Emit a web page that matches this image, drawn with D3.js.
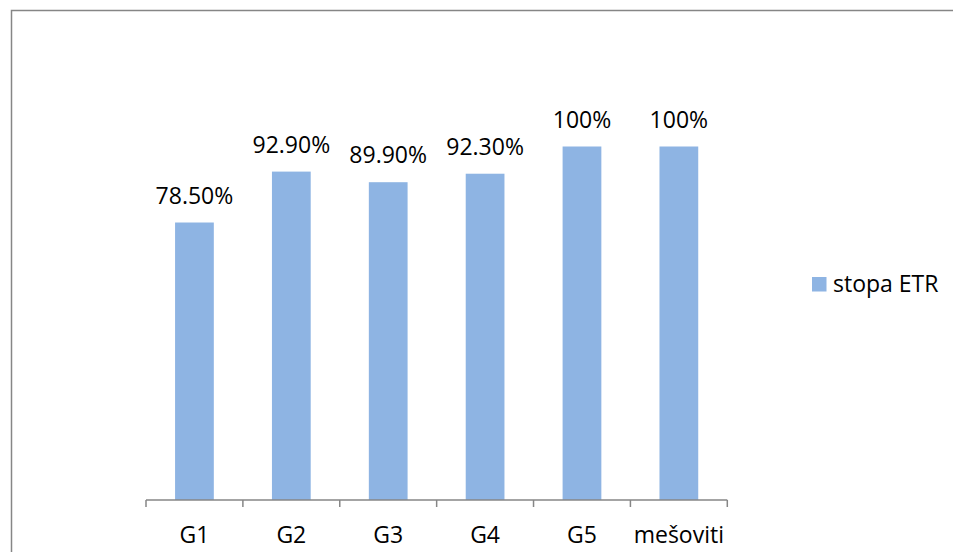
<!DOCTYPE html>
<html><head><meta charset="utf-8">
<script src="https://cdn.jsdelivr.net/npm/d3@7"></script>
<style>html,body{margin:0;padding:0;background:#fff;}svg{display:block;}</style>
</head><body><svg id="c" width="953" height="552"></svg>
<script>
const categories = ["G1","G2","G3","G4","G5","mešoviti"];
const values = [78.5, 92.9, 89.9, 92.3, 100, 100];
const valueLabels = ["78.50%","92.90%","89.90%","92.30%","100%","100%"];
const seriesName = "stopa ETR";

const svg = d3.select("#c");
const font = "'Open Sans', sans-serif";
const fs = 23;

// frame
svg.append("path").attr("d","M11.5,552 V10.5 H953").attr("fill","none").attr("stroke","#868686").attr("stroke-width",1.5);

const x = d3.scaleBand().domain(categories).range([146,727.3]).paddingInner(0.6).paddingOuter(0.3);
const y = d3.scaleLinear().domain([0,100]).range([500,146.5]);

svg.selectAll("rect.bar").data(values).join("rect").attr("class","bar")
  .attr("x",(d,i)=>x(categories[i])).attr("width",x.bandwidth())
  .attr("y",d=>y(d)).attr("height",d=>y(0)-y(d)).attr("fill","#8EB4E3");

svg.selectAll("text.vl").data(values).join("text").attr("class","vl")
  .attr("x",(d,i)=>x(categories[i])+x.bandwidth()/2).attr("y",d=>y(d)-19)
  .attr("text-anchor","middle").attr("font-family",font).attr("font-size",fs).attr("fill","#000")
  .text((d,i)=>valueLabels[i]);

// axis
const axisX = d3.scaleBand().domain(categories).range([146,727.3]);
const ax = svg.append("g").attr("transform","translate(0,500)");
ax.append("line").attr("x1",146).attr("x2",727.3).attr("y1",0).attr("y2",0).attr("stroke","#868686").attr("stroke-width",1.5);
const tickPos = categories.map(c=>axisX(c)).concat([axisX.range()[1]]);
ax.selectAll("line.t").data(tickPos).join("line").attr("class","t")
  .attr("x1",d=>d).attr("x2",d=>d).attr("y1",0).attr("y2",7).attr("stroke","#868686").attr("stroke-width",1.5);
ax.selectAll("text").data(categories).join("text")
  .attr("x",d=>axisX(d)+axisX.bandwidth()/2).attr("y",43)
  .attr("text-anchor","middle").attr("font-family",font).attr("font-size",fs).attr("fill","#000").text(d=>d);

// legend
const lg = svg.append("g");
lg.append("rect").attr("x",812).attr("y",277).attr("width",14.5).attr("height",14.5).attr("fill","#8EB4E3");
lg.append("text").attr("x",833).attr("y",292).attr("font-family",font).attr("font-size",fs).attr("fill","#000").text(seriesName);
</script></body></html>
